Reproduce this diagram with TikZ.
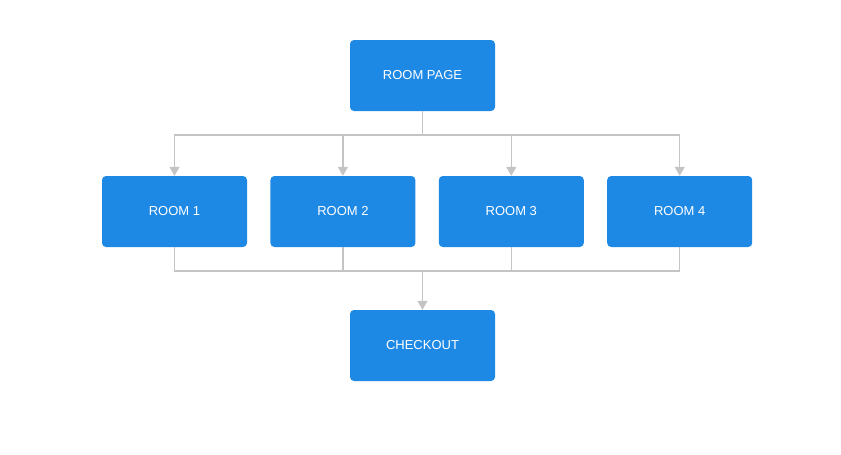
\documentclass[tikz,border=0pt]{standalone}
\usepackage{fontspec}
\setmainfont{Liberation Sans}
\usetikzlibrary{positioning,arrows.meta}
\definecolor{roomblue}{HTML}{1E88E5}
\definecolor{linegray}{HTML}{C4C4C4}
\begin{document}
\begin{tikzpicture}[
      x=1pt, y=-1pt,
      node distance=23pt,
      box/.style={fill=roomblue, draw=none, rounded corners=4pt, minimum width=145pt,
        minimum height=71pt, text=white, font=\fontsize{13}{15}\selectfont},
      link/.style={draw=linegray, line width=1.4pt},
      arrow/.style={link, -{Triangle[width=10pt,length=9pt]}}
    ]
    \useasboundingbox (0,0) rectangle (841,455);

    % Nodes for pages
    \node[box] (page) at (422.5,75.5) {ROOM PAGE};
    \node[box] (room1) at (174.5,211.5) {ROOM 1};
    \node[box] (room2) [right=of room1] {ROOM 2};
    \node[box] (room3) [right=of room2] {ROOM 3};
    \node[box] (room4) [right=of room3] {ROOM 4};
    \node[box] (checkout) at (422.5,345.5) {CHECKOUT};

    % Split and merge points
    \coordinate (split) at (422.5,135);
    \coordinate (merge) at (422.5,271);

    % Arrows from page to rooms
    \draw[link] (page.south) -- (split);
    \foreach \r in {1,...,4}
      \draw[arrow] (split) -| (room\r.north);

    % Arrows from rooms to checkout
    \foreach \r in {1,...,4}
      \draw[link] (room\r.south) |- (merge);
    \draw[arrow] (merge) -- (checkout.north);

    \end{tikzpicture}
\end{document}
